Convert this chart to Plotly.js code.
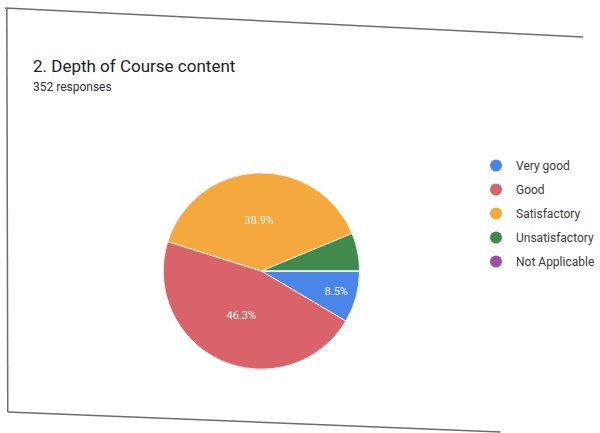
<!DOCTYPE html>
<html>
<head>
<meta charset="utf-8">
<script src="https://cdn.plot.ly/plotly-3.0.1.min.js"></script>
<style>html,body{margin:0;padding:0;background:#fff;}#chart{width:600px;height:433px;}</style>
</head>
<body>
<div id="chart"></div>
<script>
const categories = ["Very good", "Good", "Satisfactory", "Unsatisfactory", "Not Applicable"];
const responses = [30, 163, 137, 22, 0];
const colors = ["#4a86e8", "#d9636b", "#f5a83e", "#3f8a4c", "#9b51a6"];
const shownLabels = [true, true, true, false, false];
const titleText = "2. Depth of Course content";
const subtitleText = "352 responses";

const W = 600, H = 433;
const px = v => v / W;
const py = v => 1 - v / H;

const traces = [{
  type: "pie",
  labels: categories,
  values: responses,
  marker: {colors: colors, line: {color: "#f3efe6", width: 1}},
  sort: false,
  direction: "clockwise",
  rotation: 90,
  textinfo: "percent",
  texttemplate: shownLabels.map(s => s ? "%{percent:.1%}" : ""),
  textposition: "inside",
  insidetextfont: {color: "#f4f4f4", size: 11, family: "Roboto, Arial, sans-serif"},
  insidetextorientation: "horizontal",
  domain: {x: [px(168), px(370)], y: [py(376), py(166)]},
  showlegend: false,
  hoverinfo: "label+percent"
}];
categories.forEach((c, i) => {
  traces.push({
    type: "scatter", mode: "markers", x: [null], y: [null], name: c,
    legendgroup: c,
    marker: {color: colors[i], size: 12, symbol: "circle"},
    showlegend: true, hoverinfo: "skip"
  });
});

const layout = {
  width: W, height: H,
  margin: {l: 0, r: 0, t: 0, b: 0},
  paper_bgcolor: "#ffffff",
  plot_bgcolor: "rgba(0,0,0,0)",
  xaxis: {visible: false, range: [0, 1]},
  yaxis: {visible: false, range: [0, 1]},
  showlegend: true,
  legend: {
    x: px(490), y: py(151), xanchor: "left", yanchor: "top",
    font: {size: 12, color: "#3a3a3a", family: "Roboto, Arial, sans-serif"},
    traceorder: "grouped",
    tracegroupgap: 5, itemwidth: 30,
    bgcolor: "rgba(0,0,0,0)"
  },
  font: {family: "Roboto, Arial, sans-serif"},
  annotations: [
    {text: titleText, x: px(32), y: py(66), xref: "paper", yref: "paper", xanchor: "left", yanchor: "middle",
     showarrow: false, font: {size: 17, color: "#202124"}},
    {text: subtitleText, x: px(32), y: py(87), xref: "paper", yref: "paper", xanchor: "left", yanchor: "middle",
     showarrow: false, font: {size: 12, color: "#303030"}}
  ],
  shapes: [
    {type: "line", xref: "paper", yref: "paper", x0: px(5), y0: py(8), x1: px(600), y1: py(37), line: {color: "#6d6d6d", width: 1.5}},
    {type: "line", xref: "paper", yref: "paper", x0: px(7), y0: py(8), x1: px(8), y1: py(412), line: {color: "#6d6d6d", width: 1.5}},
    {type: "line", xref: "paper", yref: "paper", x0: px(8), y0: py(412), x1: px(515), y1: py(432), line: {color: "#6d6d6d", width: 1.5}}
  ]
};

Plotly.newPlot("chart", traces, layout, {displayModeBar: false, staticPlot: true});
</script>
</body>
</html>
